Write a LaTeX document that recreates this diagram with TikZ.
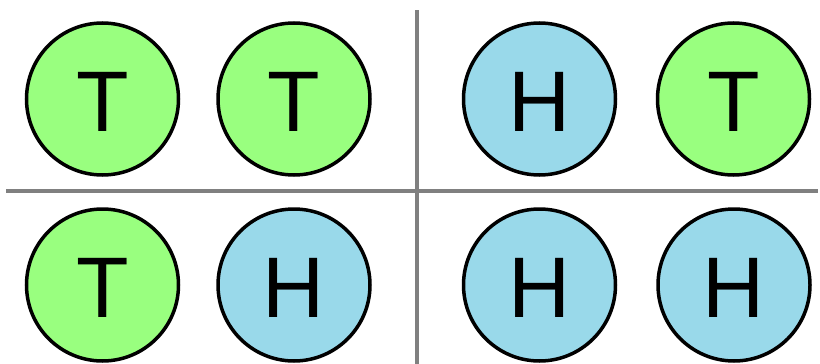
\documentclass[tikz,border=0pt]{standalone}
\usepackage{fontspec}
\setmainfont{Liberation Sans}
\definecolor{tailsgreen}{RGB}{153,255,127}
\definecolor{headsblue}{RGB}{153,217,234}
\definecolor{divgray}{RGB}{128,128,128}
\begin{document}
\begin{tikzpicture}[x=1pt,y=-1pt,
  coin/.style={circle,draw=black,line width=3.5pt,minimum size=152pt,inner sep=0pt},
  tails/.style={coin,fill=tailsgreen},
  heads/.style={coin,fill=headsblue},
  letter/.style={inner sep=0pt,font=\fontsize{86}{86}\selectfont},
  divider/.style={draw=divgray,line width=4pt}]
\useasboundingbox (0,0) rectangle (820,364);
% dividers
\coordinate (hl) at (6,191);
\coordinate (hr) at (818,191);
\coordinate (vt) at (417,10);
\coordinate (vb) at (417,364);
\draw[divider] (hl) -- (hr);
\draw[divider] (vt) -- (vb);
% coins
\node[tails] (c1) at (102.5,99) {};
\node[tails] (c2) at (294,99) {};
\node[heads] (c3) at (539.5,99) {};
\node[tails] (c4) at (733.5,99) {};
\node[tails] (c5) at (102.5,285) {};
\node[heads] (c6) at (294,285) {};
\node[heads] (c7) at (539.5,285) {};
\node[heads] (c8) at (734,285) {};
% letters
\node[letter] (l1) at ([yshift=-3pt]c1.center) {T};
\node[letter] (l2) at ([yshift=-3pt]c2.center) {T};
\node[letter] (l3) at ([yshift=-3pt]c3.center) {H};
\node[letter] (l4) at ([yshift=-3pt]c4.center) {T};
\node[letter] (l5) at ([yshift=-3pt]c5.center) {T};
\node[letter] (l6) at ([yshift=-3pt]c6.center) {H};
\node[letter] (l7) at ([yshift=-3pt]c7.center) {H};
\node[letter] (l8) at ([yshift=-3pt]c8.center) {H};
\end{tikzpicture}
\end{document}
